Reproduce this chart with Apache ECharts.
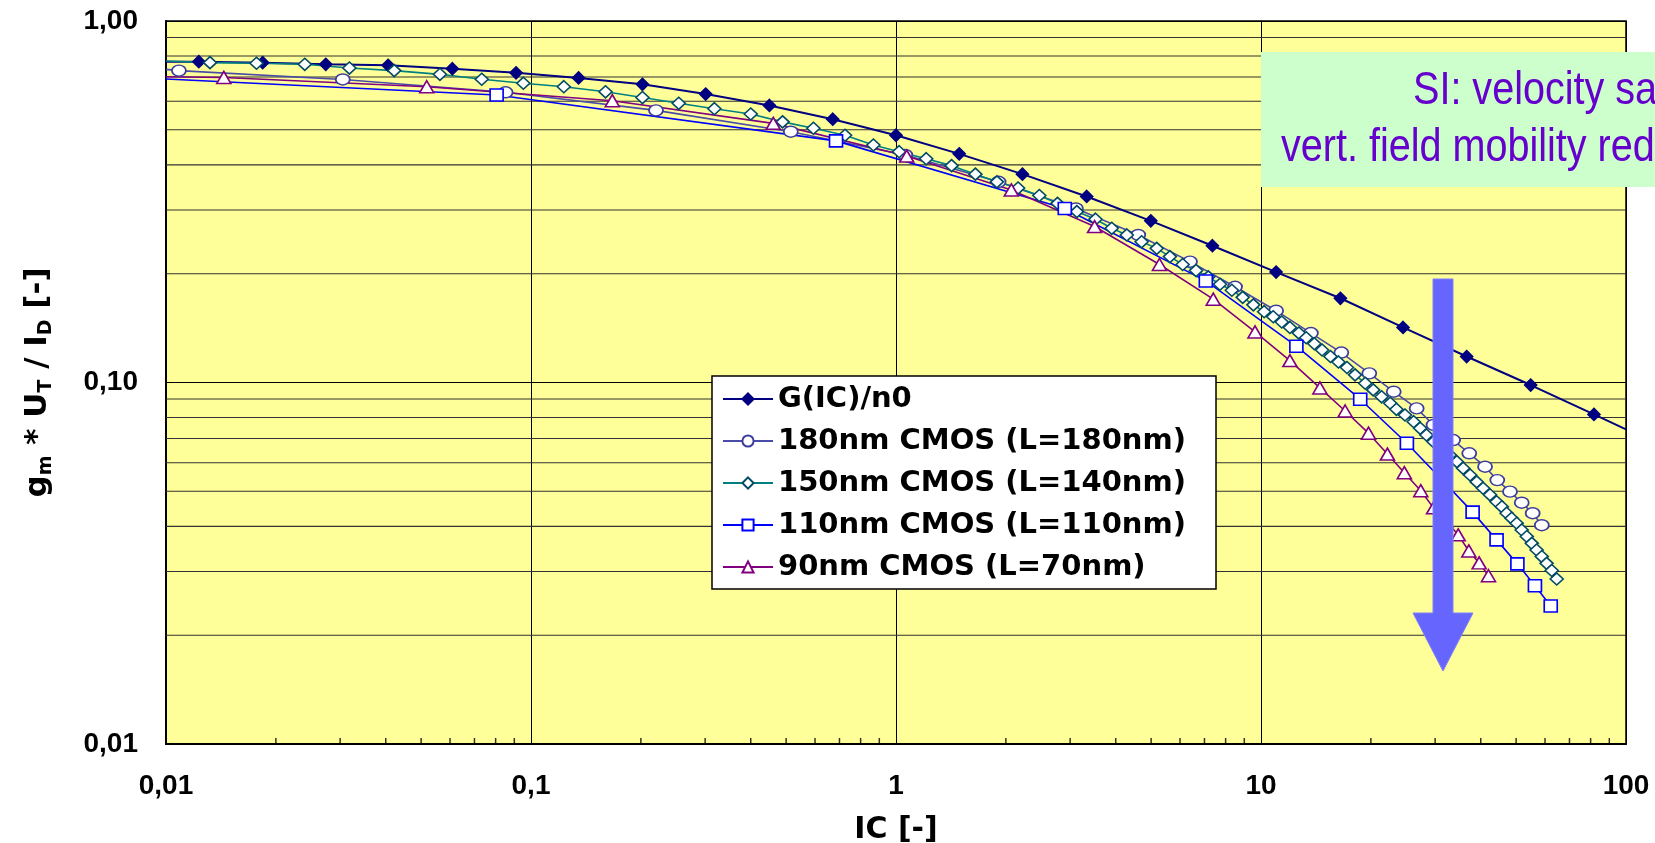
<!DOCTYPE html>
<html>
<head>
<meta charset="utf-8">
<script src="https://cdn.jsdelivr.net/npm/echarts@6.0.0/dist/echarts.min.js"></script>
<style>
  html, body { margin: 0; padding: 0; background: #ffffff; }
  #chart { width: 1655px; height: 843px; }
</style>
</head>
<body>
<div id="chart"></div>
<script>
// ---------------- data ----------------
const xTickLabels = ['0,01', '0,1', '1', '10', '100'];
const yTickLabels = ['0,01', '0,10', '1,00'];
const yMinorGrid = [0.02, 0.03, 0.04, 0.05, 0.06, 0.07, 0.08, 0.09, 0.2, 0.3, 0.4, 0.5, 0.6, 0.7, 0.8, 0.9];
const xMinorTicks = [0.02, 0.03, 0.04, 0.05, 0.06, 0.07, 0.08, 0.09, 0.2, 0.3, 0.4, 0.5, 0.6, 0.7, 0.8, 0.9,
                     2, 3, 4, 5, 6, 7, 8, 9, 20, 30, 40, 50, 60, 70, 80, 90];

const seriesNames = ['G(IC)/n0', '180nm CMOS (L=180nm)', '150nm CMOS (L=140nm)', '110nm CMOS (L=110nm)', '90nm CMOS (L=70nm)'];

const gIC  = [0.01, 0.0123, 0.0184, 0.0274, 0.0406, 0.0609, 0.091, 0.135, 0.202, 0.301, 0.450, 0.671, 1.00, 1.49, 2.22, 3.33, 4.99, 7.36, 11.0, 16.5, 24.5, 36.6, 54.8, 81.7, 100];
const gVal = [0.772, 0.772, 0.767, 0.759, 0.754, 0.738, 0.719, 0.696, 0.668, 0.628, 0.584, 0.535, 0.483, 0.429, 0.377, 0.327, 0.280, 0.239, 0.202, 0.171, 0.142, 0.118, 0.0984, 0.0816, 0.0742];

const c180IC  = [0.01, 0.01085, 0.0305, 0.0852, 0.220, 0.515, 1.06, 1.91, 3.11, 4.61, 6.39, 8.49, 11.0, 13.7, 16.6, 19.8, 23.1, 26.7, 29.7, 33.6, 37.2, 41.1, 44.4, 48.1, 51.8, 55.5, 58.8];
const c180Val = [0.735, 0.729, 0.689, 0.635, 0.566, 0.494, 0.426, 0.359, 0.303, 0.256, 0.216, 0.184, 0.158, 0.137, 0.121, 0.106, 0.0943, 0.0848, 0.0763, 0.0693, 0.0637, 0.0585, 0.0537, 0.0499, 0.0465, 0.0435, 0.0403];

const c150IC  = [0.01, 0.0132, 0.0177, 0.0240, 0.0318, 0.0422, 0.0563, 0.0733, 0.0953, 0.123, 0.160, 0.202, 0.254, 0.318, 0.400, 0.489, 0.594, 0.725, 0.867, 1.02, 1.21, 1.42, 1.65, 1.89, 2.16, 2.47, 2.77, 3.13, 3.52, 3.90, 4.29, 4.71, 5.18, 5.63, 6.10, 6.64, 7.17, 7.72, 8.32, 8.91, 9.53, 10.2, 10.8, 11.4, 12.0, 12.7, 13.3, 14.0, 14.7, 15.5, 16.3, 17.2, 18.1, 19.3, 20.3, 21.4, 22.6, 23.5, 24.8, 26.2, 27.3, 28.4, 29.7, 31.3, 32.9, 34.4, 35.8, 37.4, 39.0, 40.6, 42.4, 44.2, 45.7, 47.1, 48.6, 50.2, 51.8, 53.5, 55.2, 56.9, 58.8, 60.6, 62.6, 64.6];
const c150Val = [0.775, 0.767, 0.764, 0.759, 0.741, 0.729, 0.712, 0.690, 0.673, 0.658, 0.637, 0.614, 0.592, 0.572, 0.553, 0.526, 0.505, 0.483, 0.454, 0.435, 0.416, 0.398, 0.377, 0.359, 0.345, 0.329, 0.313, 0.297, 0.283, 0.267, 0.256, 0.245, 0.235, 0.223, 0.212, 0.204, 0.196, 0.187, 0.180, 0.172, 0.164, 0.157, 0.152, 0.147, 0.142, 0.137, 0.133, 0.128, 0.123, 0.118, 0.114, 0.110, 0.105, 0.0995, 0.0954, 0.0913, 0.0876, 0.0843, 0.0813, 0.0779, 0.0747, 0.0716, 0.0686, 0.0658, 0.0630, 0.0604, 0.0579, 0.0555, 0.0531, 0.0510, 0.0489, 0.0468, 0.0453, 0.0435, 0.0421, 0.0408, 0.0391, 0.0375, 0.0359, 0.0344, 0.0330, 0.0316, 0.0302, 0.0286];

const c110IC  = [0.01, 0.0805, 0.685, 2.90, 7.06, 12.5, 18.7, 25.1, 31.5, 38.0, 44.2, 50.4, 56.3, 62.2];
const c110Val = [0.691, 0.624, 0.466, 0.303, 0.191, 0.126, 0.0899, 0.0679, 0.0535, 0.0438, 0.0367, 0.0315, 0.0274, 0.0241];

const c90IC  = [0.01, 0.0144, 0.0518, 0.167, 0.461, 1.07, 2.07, 3.50, 5.27, 7.40, 9.63, 12.0, 14.5, 17.0, 19.7, 22.2, 24.7, 27.4, 29.7, 32.1, 34.7, 37.1, 39.6, 42.0];
const c90Val = [0.701, 0.698, 0.658, 0.602, 0.521, 0.423, 0.341, 0.270, 0.212, 0.170, 0.138, 0.115, 0.0966, 0.0834, 0.0724, 0.0634, 0.0563, 0.0502, 0.0450, 0.0414, 0.0379, 0.0342, 0.0317, 0.0292];

const noteLines = ['SI: velocity saturation', 'vert. field mobility reduction'];

// ---------------- chart ----------------
const X_MIN = 0.01, X_MAX = 100, Y_MIN = 0.01, Y_MAX = 1;

function pts(xs, ys) {
  return xs.map((x, i) => {
    const item = { value: [x, ys[i]] };
    // line ends at the plot frame carry no marker
    if (x <= X_MIN || x >= X_MAX) item.symbol = 'none';
    return item;
  });
}

const chart = echarts.init(document.getElementById('chart'), null, { renderer: 'canvas' });

const labelFont = { fontFamily: 'Liberation Sans, Arial, sans-serif', fontWeight: 'bold', fontSize: 28, color: '#000' };
const titleFont = { fontFamily: 'DejaVu Sans, sans-serif', fontWeight: 'bold', fontSize: 30, color: '#000' };

function dataSeries(name, xs, ys, color, symbol, size, fill, border, width) {
  return {
    name: name, type: 'line', data: pts(xs, ys),
    symbol: symbol, symbolSize: size,
    showAllSymbol: true,
    lineStyle: { color: color, width: width },
    itemStyle: { color: fill, borderColor: border, borderWidth: 1.6 },
    z: 3, animation: false, emphasis: { disabled: true }
  };
}

const minorGridSeries = yMinorGrid.map(v => ({
  type: 'line', data: [[X_MIN, v], [X_MAX, v]], symbol: 'none', silent: true,
  lineStyle: { color: '#333333', width: 1.1 }, z: 1, animation: false, tooltip: { show: false }
}));

const minorTickSeries = {
  type: 'scatter', data: xMinorTicks.map(x => [x, Y_MIN]), symbol: 'rect', symbolSize: [1.5, 6],
  symbolOffset: [0, -3], itemStyle: { color: '#000' }, silent: true, clip: false, z: 4, animation: false
};

const option = {
  animation: false,
  backgroundColor: '#ffffff',
  grid: {
    left: 166, right: 29, top: 21, bottom: 99,
    containLabel: false, outerBoundsMode: 'none',
    show: true, backgroundColor: '#ffff99', borderColor: '#000', borderWidth: 1.5
  },
  xAxis: {
    type: 'log', logBase: 10, min: X_MIN, max: X_MAX,
    name: 'IC [-]', nameLocation: 'middle', nameGap: 71,
    nameTextStyle: titleFont,
    axisLine: { show: true, lineStyle: { color: '#000', width: 2 } },
    axisTick: { show: false },
    axisLabel: {
      margin: 28, ...labelFont,
      formatter: v => xTickLabels[Math.round(Math.log10(v)) + 2]
    },
    splitLine: { show: true, lineStyle: { color: '#000', width: 1 } }
  },
  yAxis: {
    type: 'log', logBase: 10, min: Y_MIN, max: Y_MAX,
    name: '{n|g}{s|m}{n| * U}{s|T}{n| / I}{s|D}{n| [-]}',
    nameLocation: 'middle', nameRotate: 90, nameGap: 110,
    nameTextStyle: {
      ...titleFont,
      rich: {
        n: { fontFamily: 'DejaVu Sans, sans-serif', fontWeight: 'bold', fontSize: 31, lineHeight: 36, color: '#000', verticalAlign: 'middle' },
        s: { fontFamily: 'DejaVu Sans, sans-serif', fontWeight: 'bold', fontSize: 19, lineHeight: 19, padding: [17, 0, 0, 0], color: '#000', verticalAlign: 'middle' }
      }
    },
    axisLine: { show: true, lineStyle: { color: '#000', width: 2 } },
    axisTick: { show: false },
    axisLabel: {
      margin: 28, ...labelFont,
      formatter: v => yTickLabels[Math.round(Math.log10(v)) + 2]
    },
    splitLine: { show: true, lineStyle: { color: '#000', width: 1 } }
  },
  legend: {
    data: seriesNames,
    orient: 'vertical', left: 712, top: 376,
    itemGap: 10, itemWidth: 50, itemHeight: 14,
    padding: [7, 8, 6, 10],
    backgroundColor: '#ffffff', borderColor: '#000', borderWidth: 1.5, borderRadius: 0,
    selectedMode: false,
    textStyle: { fontFamily: 'DejaVu Sans, sans-serif', fontWeight: 'bold', fontSize: 29, color: '#000', lineHeight: 32, width: 430 }
  },
  series: [
    ...minorGridSeries,
    minorTickSeries,
    dataSeries(seriesNames[0], gIC, gVal, '#000080', 'diamond', [12, 12], '#000080', '#000080', 2),
    dataSeries(seriesNames[1], c180IC, c180Val, '#4a4aa8', 'circle', [14, 11], '#ffffff', '#3c3c9c', 1.6),
    dataSeries(seriesNames[2], c150IC, c150Val, '#008080', 'diamond', [13, 12], '#ffffff', '#004a66', 1.6),
    dataSeries(seriesNames[3], c110IC, c110Val, '#0000ff', 'rect', [13, 12], '#ffffff', '#0000ff', 1.6),
    dataSeries(seriesNames[4], c90IC, c90Val, '#800080', 'triangle', [14, 12], '#ffffff', '#800080', 1.6)
  ],
  graphic: [
    {
      type: 'rect', z: 100, silent: true,
      shape: { x: 1261, y: 52, width: 420, height: 135 },
      style: { fill: '#ccffcc' }
    },
    {
      type: 'text', z: 101, silent: true, x: 1413, y: 91, scaleX: 0.86,
      style: { text: noteLines[0], fill: '#6600cc', font: '46px "Liberation Sans", Arial, sans-serif', textAlign: 'left', textVerticalAlign: 'middle' }
    },
    {
      type: 'text', z: 101, silent: true, x: 1281, y: 148, scaleX: 0.86,
      style: { text: noteLines[1], fill: '#6600cc', font: '46px "Liberation Sans", Arial, sans-serif', textAlign: 'left', textVerticalAlign: 'middle' }
    },
    {
      type: 'polygon', z: 100, silent: true,
      shape: { points: [[1433, 279], [1453, 279], [1453, 613], [1473, 613], [1443, 671], [1413, 613], [1433, 613]] },
      style: { fill: '#6666ff', stroke: '#7f7fff', lineWidth: 1 }
    }
  ]
};

chart.setOption(option);
</script>
</body>
</html>
